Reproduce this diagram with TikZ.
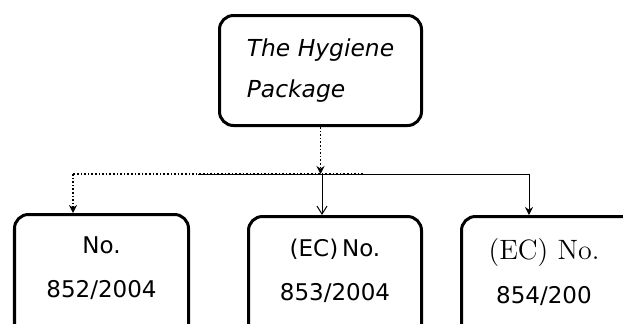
\documentclass[tikz,border=0pt]{standalone}
\usepackage{fontspec}
\newfontfamily\boxfont{DejaVu Sans}
\usetikzlibrary{arrows.meta}

\begin{document}
\begin{tikzpicture}[x=0.5pt, y=-0.5pt,
    rbox/.style={draw, line width=1.5pt, rounded corners=7pt, inner sep=0pt},
    lbl/.style={align=center, font=\boxfont\fontsize{11.5}{22}\selectfont},
    dotline/.style={line width=0.8pt, densely dotted},
    solline/.style={line width=0.5pt},
    fulltip/.style={-{Stealth[length=4pt, width=4pt]}},
    opentip/.style={-{Straight Barb[length=4pt, width=5pt]}}]
      \useasboundingbox (0, 0) rectangle (623, 323);
      \clip (0, 0) rectangle (623, 323);
      \node[rbox, minimum width=101pt, minimum height=55pt, align=left, font=\boxfont\itshape\fontsize{11.7}{20.5}\selectfont] (hyg) at (320.5, 70.5) {The Hygiene\\Package};
      \node[rbox, minimum width=87pt, minimum height=75pt] (r852) at (101.5, 289.5) {};
      \node[rbox, minimum width=86.5pt, minimum height=75pt] (r853) at (335, 291.5) {};
      \node[rbox, minimum width=95pt, minimum height=75pt] (r854) at (556.5, 291.5) {};
      \node[lbl] (t852) at (101.5, 268) {No.\\852/2004};
      \node[lbl] (t853) at (335, 270.5) {(EC)\,No.\\853/2004};
      \node[lbl] (t854) at (544, 272) {{\rmfamily\fontsize{14}{22}\selectfont (EC) No.}\\854/200};
      \coordinate (lft) at (73, 174);
      \coordinate (dotR) at (363, 174);
      \coordinate (solL) at (198, 174);
      \coordinate (solR) at (529, 174);
      \coordinate (mid) at (322, 174);
      \draw[solline] (solL) -- (solR);
      \draw[dotline] (dotR) -- (lft);
      \draw[dotline, fulltip] (hyg.south) -- (hyg.south |- solL);
      \draw[dotline, fulltip] (lft) -- (lft |- r852.north);
      \draw[solline, opentip] (mid) -- (mid |- r853.north);
      \draw[solline, fulltip] (solR) -- (solR |- r854.north);
    \end{tikzpicture}
\end{document}
